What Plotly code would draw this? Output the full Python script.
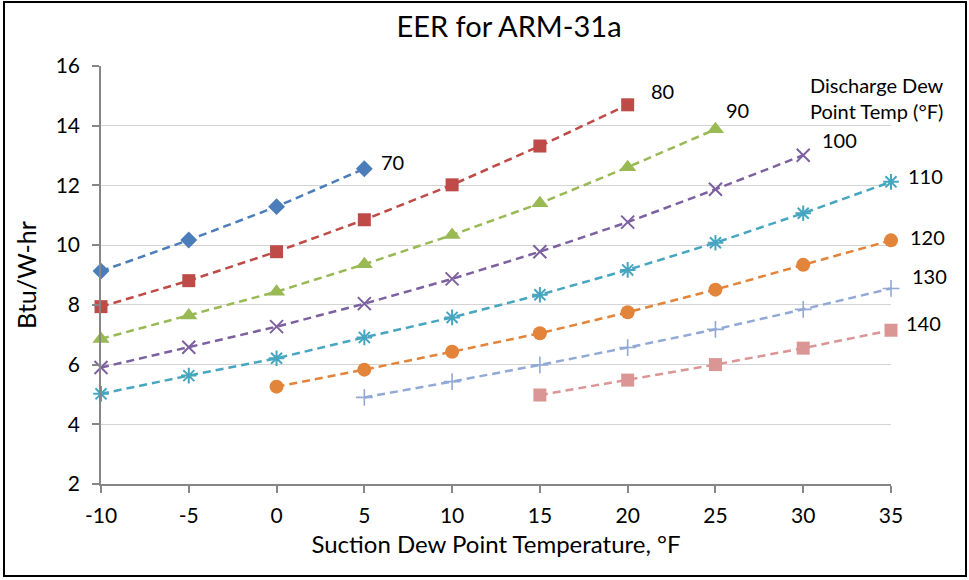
import plotly.graph_objects as go

# ---- data ----
discharge_temps = ["70", "80", "90", "100", "110", "120", "130", "140"]

suction_70 = [-10, -5, 0, 5]
eer_70 = [9.13, 10.17, 11.29, 12.56]

suction_80 = [-10, -5, 0, 5, 10, 15, 20]
eer_80 = [7.94, 8.81, 9.78, 10.85, 12.02, 13.32, 14.70]

suction_90 = [-10, -5, 0, 5, 10, 15, 20, 25]
eer_90 = [6.86, 7.64, 8.44, 9.36, 10.34, 11.40, 12.61, 13.88]

suction_100 = [-10, -5, 0, 5, 10, 15, 20, 25, 30]
eer_100 = [5.90, 6.58, 7.27, 8.04, 8.87, 9.78, 10.77, 11.87, 13.01]

suction_110 = [-10, -5, 0, 5, 10, 15, 20, 25, 30, 35]
eer_110 = [5.02, 5.63, 6.21, 6.91, 7.58, 8.34, 9.17, 10.08, 11.07, 12.12]

suction_120 = [0, 5, 10, 15, 20, 25, 30, 35]
eer_120 = [5.26, 5.83, 6.43, 7.05, 7.75, 8.51, 9.34, 10.16]

suction_130 = [5, 10, 15, 20, 25, 30, 35]
eer_130 = [4.90, 5.43, 5.99, 6.57, 7.18, 7.85, 8.55]

suction_140 = [15, 20, 25, 30, 35]
eer_140 = [4.98, 5.48, 6.00, 6.55, 7.15]

x_ticks = [-10, -5, 0, 5, 10, 15, 20, 25, 30, 35]
y_ticks = [2, 4, 6, 8, 10, 12, 14, 16]

xs = [suction_70, suction_80, suction_90, suction_100, suction_110, suction_120, suction_130, suction_140]
ys = [eer_70, eer_80, eer_90, eer_100, eer_110, eer_120, eer_130, eer_140]

# ---- styles ----
colors = ["#4a7dba", "#be4b48", "#98b954", "#7d60a0", "#46a6c0", "#e2843a", "#91a9d4", "#d99694"]
symbols = ["diamond", "square", "triangle-up", "x-thin-open", "asterisk-open", "circle", "cross-thin-open", "square"]
sizes = [13, 13, 15, 13, 13, 14, 12, 13]
marker_line = [0, 0, 0, 2, 2, 0, 1.6, 0]
label_shift = [(28, 7), (35, 14), (22, 19), (36, 15), (34, 6), (36, 3), (38, 12), (32, 7)]

FONT = "Lato"

fig = go.Figure()
for name, x, y, c, s, sz, mlw in zip(discharge_temps, xs, ys, colors, symbols, sizes, marker_line):
    fig.add_trace(go.Scatter(
        x=x, y=y, name=name, mode="lines+markers", cliponaxis=False,
        line=dict(color=c, width=2.5, dash="8px,5px"),
        marker=dict(symbol=s, size=sz, color=c, line=dict(color=c, width=mlw)),
    ))

annotations = []
for name, x, y, (dx, dy) in zip(discharge_temps, xs, ys, label_shift):
    annotations.append(dict(
        x=x[-1], y=y[-1], xref="x", yref="y", text=name, showarrow=False,
        xshift=dx, yshift=dy, font=dict(family=FONT, size=20, color="#000000"),
    ))

annotations.append(dict(
    x=0.982, y=0.9246, xref="paper", yref="paper",
    text="Discharge Dew<br>Point Temp (°F)", showarrow=False, align="center",
    xanchor="center", yanchor="middle",
    font=dict(family=FONT, size=20, color="#000000"),
))

fig.update_layout(
    width=969, height=580,
    margin=dict(l=101, r=78, t=66, b=96, autoexpand=False),
    paper_bgcolor="white", plot_bgcolor="white",
    showlegend=False,
    title=dict(text="EER for ARM-31a", x=0.5165, xref="paper", xanchor="center",
               y=1 - 27 / 580, yref="container", yanchor="middle",
               font=dict(family=FONT, size=29, color="#000000")),
    font=dict(family=FONT, color="#000000"),
    annotations=annotations,
    shapes=[dict(type="rect", xref="paper", yref="paper",
                 x0=(4 - 101) / 790, x1=(966 - 101) / 790,
                 y0=(484 - 576) / 418, y1=(484 - 2) / 418,
                 line=dict(color="#000000", width=2), fillcolor="rgba(0,0,0,0)",
                 layer="below")],
)

fig.update_xaxes(
    range=[-10, 35], tickvals=x_ticks, ticktext=[str(v) for v in x_ticks],
    showgrid=False, zeroline=False, showline=True, linecolor="#868686", linewidth=1.5,
    ticks="outside", ticklen=7, tickcolor="#868686", tickwidth=1.5,
    tickfont=dict(family=FONT, size=21, color="#000000"), ticklabelstandoff=5,
    title=dict(text="Suction Dew Point Temperature, °F", standoff=10,
               font=dict(family=FONT, size=24, color="#000000")),
)
fig.update_yaxes(
    range=[2, 16], tickvals=y_ticks, ticktext=[str(v) for v in y_ticks],
    showgrid=True, gridcolor="#d4d4d4", gridwidth=1.2,
    zeroline=False, showline=True, linecolor="#868686", linewidth=1.5,
    ticks="outside", ticklen=7, tickcolor="#868686", tickwidth=1.5,
    tickfont=dict(family=FONT, size=21, color="#000000"), ticklabelstandoff=8,
    title=dict(text="Btu/W-hr", standoff=12,
               font=dict(family=FONT, size=25, color="#000000")),
)

fig.write_html("out.html", config={"displayModeBar": False},
               post_script="document.body.style.margin='0px';document.body.style.overflow='hidden';")
